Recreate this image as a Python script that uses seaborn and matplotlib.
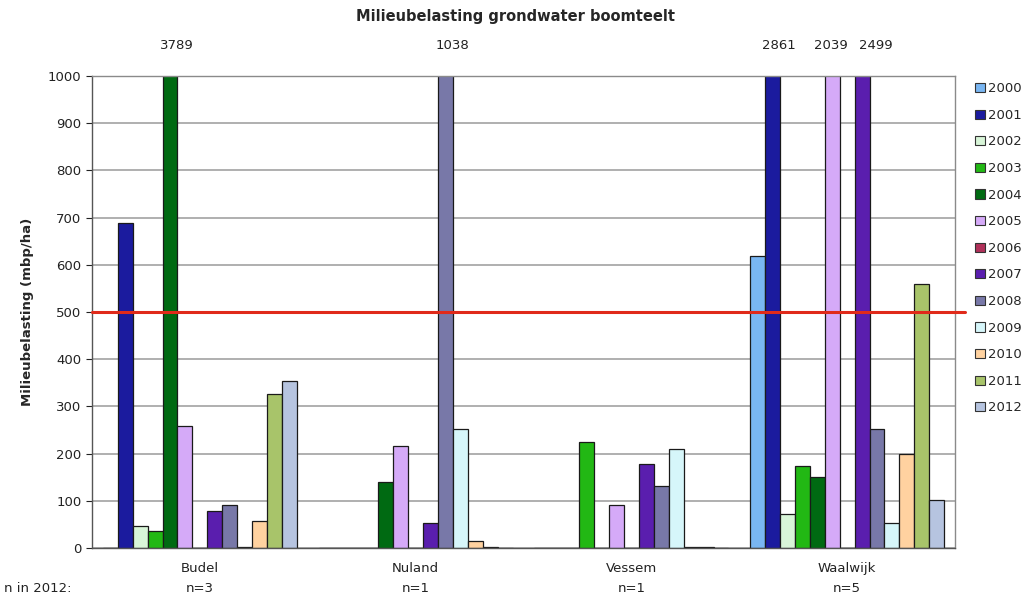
import numpy as np
import pandas as pd
import matplotlib
matplotlib.use("Agg")
import matplotlib.pyplot as plt
import matplotlib.transforms as mtransforms
from matplotlib.patches import Patch
import seaborn as sns

# ---------------- data ----------------
locations = ["Budel", "Nuland", "Vessem", "Waalwijk"]
n_2012 = [3, 1, 1, 5]
years = [str(y) for y in range(2000, 2013)]

budel    = [0, 688, 47, 37, 3789, 258, 0, 78, 92, 2, 57, 326, 353]
nuland   = [0, 0, 0, 0, 139, 216, 0, 54, 1038, 253, 14, 2, 0]
vessem   = [0, 0, 0, 225, 0, 92, 0, 179, 131, 210, 2, 2, 0]
waalwijk = [619, 2861, 72, 174, 151, 2039, 0, 2499, 252, 52, 199, 559, 102]

norm_value = 500
y_max = 1000

colors = ["#79B6F2", "#1B1B9E", "#D8F5D8", "#22B814", "#006A12", "#D5AAF8",
          "#B0305A", "#5A1EAE", "#7878A8", "#D6F6FA", "#FFD2A0", "#A8C46A", "#B6C4E0"]

# ---------------- frame ----------------
rows = []
for loc, vals in zip(locations, [budel, nuland, vessem, waalwijk]):
    for yr, v in zip(years, vals):
        rows.append({"loc": loc, "year": yr, "value": v})
df = pd.DataFrame(rows)

sns.set_style("white")
plt.rcParams["font.family"] = ["DejaVu Sans"]

fig = plt.figure(figsize=(10.31, 5.99), dpi=100)
ax = fig.add_axes([92 / 1031, 1 - 548 / 599, (955 - 92) / 1031, (548 - 76) / 599])

sns.barplot(data=df, x="loc", y="value", hue="year", order=locations,
            hue_order=years, palette=colors, width=0.9, gap=0, saturation=1,
            edgecolor="#1a1a1a", linewidth=0.9, legend=False, ax=ax,
            errorbar=None)

ax.set_ylim(0, y_max)
ax.set_xlim(-0.5, len(locations) - 0.5)
ax.set_yticks(np.arange(0, y_max + 1, 100))
ax.yaxis.grid(True, color="#9a9a9a", linewidth=1.1)
ax.set_axisbelow(True)
for s in ["left", "bottom", "right", "top"]:
    ax.spines[s].set_visible(True)
    ax.spines[s].set_color("#8a8a8a")
    ax.spines[s].set_linewidth(1.0)
ax.spines["left"].set_color("#555555")
ax.spines["bottom"].set_color("#555555")

ax.tick_params(axis="y", labelsize=9.5, colors="#222222", length=4, direction="out",
               left=True, width=0.8)
ax.set_xticks(range(len(locations)))
ax.set_xticklabels(locations, fontsize=9.5, color="#222222")
ax.tick_params(axis="x", length=0, pad=10)
ax.set_xticks(np.arange(-0.5, len(locations), 1.0), minor=True)
ax.tick_params(axis="x", which="minor", length=5, direction="out", color="#555555", width=0.8)
ax.set_xlabel("")
ax.set_ylabel("Milieubelasting (mbp/ha)", fontsize=9.5, fontweight="bold", labelpad=10)

# norm line
ax.axhline(norm_value, xmin=0, xmax=1.012, color="#E02A1A", linewidth=2.2,
           clip_on=False, zorder=5)

# labels of clipped bars (spread apart so they do not overlap)
n_years = len(years)
bw = 0.9 / n_years
labels = []
for i, vals in enumerate([budel, nuland, vessem, waalwijk]):
    for j, v in enumerate(vals):
        if v > y_max:
            labels.append([i - 0.45 + bw * (j + 0.5) + 0.03, v])
labels.sort()
min_sep = 0.21
for k in range(1, len(labels)):
    d = labels[k][0] - labels[k - 1][0]
    if d < min_sep:
        labels[k - 1][0] -= (min_sep - d) / 2
        labels[k][0] += (min_sep - d) / 2
for xc, v in labels:
    ax.text(xc, y_max * 1.065, str(v), ha="center", va="center",
            fontsize=9.5, color="#222222", clip_on=False)

# n in 2012 row
trans = mtransforms.blended_transform_factory(ax.transData, fig.transFigure)
for i, n in enumerate(n_2012):
    ax.text(i, 1 - 588 / 599, f"n={n}", ha="center", va="center", fontsize=9.5,
            color="#222222", transform=trans)
fig.text(4 / 1031, 1 - 588 / 599, "n in 2012:", ha="left", va="center",
         fontsize=9.5, color="#222222")

fig.text(0.5, 1 - 17 / 599, "Milieubelasting grondwater boomteelt", ha="center",
         va="center", fontsize=10.5, fontweight="bold")

handles = [Patch(facecolor=c, edgecolor="#333333", linewidth=0.8, label=y)
           for c, y in zip(colors, years)]
fig.legend(handles=handles, loc="upper left", bbox_to_anchor=(970 / 1031, 1 - 77 / 599),
           frameon=False, fontsize=9.5, handlelength=0.7, handleheight=0.7,
           handletextpad=0.3, labelspacing=1.03, borderaxespad=0)

fig.savefig("out.png", dpi=100)
